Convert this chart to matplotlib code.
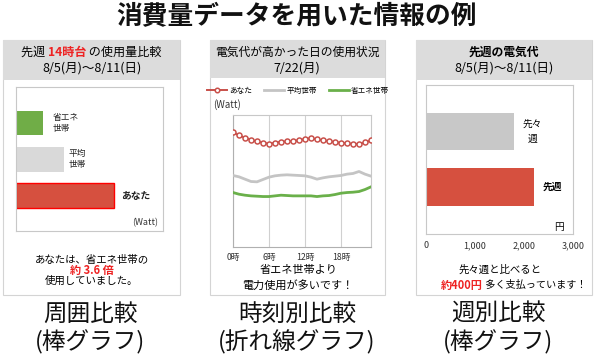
import matplotlib
matplotlib.use("Agg")
import matplotlib.pyplot as plt
from matplotlib.patches import Rectangle

plt.rcParams['font.family'] = ['Noto Sans CJK JP', 'DejaVu Sans']

# ---------------- data ----------------
title = "消費量データを用いた情報の例"

# panel 1: neighbour comparison (Watt)
p1_cats = ["あなた", "平均\n世帯", "省エネ\n世帯"]
p1_vals = [900, 440, 250]
p1_colors = ["#d6503f", "#d9d9d9", "#70ad47"]

# panel 2: hourly usage (Watt, relative)
hours = list(range(24))
you = [343, 334, 327, 321, 316, 312, 309, 312, 315, 316, 317, 320,
       323, 326, 322, 319, 317, 314, 312, 310, 309, 308, 313, 319]
avg = [214, 210, 203, 196, 195, 202, 209, 213, 215, 216, 215, 214,
       213, 209, 203, 207, 210, 212, 214, 218, 220, 226, 218, 212]
eco = [163, 158, 155, 153, 152, 151, 151, 153, 155, 154, 153, 153,
       153, 153, 151, 153, 154, 157, 161, 163, 164, 166, 172, 180]
p2_ticks = [0, 6, 12, 18]
p2_ticklabels = ["0時", "6時", "12時", "18時"]
p2_series_names = ["あなた", "平均世帯", "省エネ世帯"]

# panel 3: weekly cost (yen)
p3_cats = ["先週", "先々\n週"]
p3_vals = [2200, 1800]
p3_colors = ["#d6503f", "#c8c8c8"]
p3_ticks = [0, 1000, 2000, 3000]
p3_ticklabels = ["0", "1,000", "2,000", "3,000"]

bottom_labels = [("周囲比較", "(棒グラフ)"), ("時刻別比較", "(折れ線グラフ)"), ("週別比較", "(棒グラフ)")]

# ---------------- layout helpers ----------------
W, H = 595, 360
fig = plt.figure(figsize=(W / 100, H / 100), dpi=100)


def fx(x):
    return x / W


def fy(y):
    return 1 - y / H


def add_ax(x0, y0, x1, y1):
    return fig.add_axes([fx(x0), fy(y1), (x1 - x0) / W, (y1 - y0) / H])


def panel(x0, x1, hy1):
    fig.patches.append(Rectangle((fx(x0), fy(295)), (x1 - x0) / W, (295 - 40) / H,
                                 transform=fig.transFigure, facecolor="white",
                                 edgecolor="#d4d4d4", lw=0.8, zorder=-2))
    fig.patches.append(Rectangle((fx(x0), fy(hy1)), (x1 - x0) / W, (hy1 - 40) / H,
                                 transform=fig.transFigure, facecolor="#dcdcdc",
                                 edgecolor="none", zorder=-1))


def style_box(ax):
    ax.set_facecolor("white")
    for s in ax.spines.values():
        s.set_color("#c8c8c8")
        s.set_linewidth(0.8)


# title
fig.text(fx(297), fy(17), title, ha="center", va="center", fontsize=18.5,
         fontweight="bold", color="#111111")

# ---------------- panel 1 ----------------
panel(3, 180, 80)
ax1 = add_ax(16, 87, 163, 231)
style_box(ax1)
ypos1 = list(range(len(p1_cats)))
bars = ax1.barh(ypos1, p1_vals, height=0.68, color=p1_colors)
bars[0].set_edgecolor("#ff0000")
bars[0].set_linewidth(1.0)
ax1.set_xlim(0, 1350)
ax1.set_ylim(-0.97, 2.99)
ax1.set_xticks([])
ax1.set_yticks([])
offs = [7, 5, 9]
for i, (c, v) in enumerate(zip(p1_cats, p1_vals)):
    ax1.annotate(c, xy=(v, i), xytext=(offs[i] * 0.72, 0), textcoords="offset points",
                 va="center", ha="left", fontsize=7 if i == 0 else 6.3,
                 fontweight="bold" if i == 0 else "normal", color="#222222",
                 linespacing=1.3)
ax1.text(0.97, 0.06, "(Watt)", transform=ax1.transAxes, ha="right", va="center",
         fontsize=6.5, color="#333333")

t1 = ax1.annotate("先週 ", xy=(fx(21), fy(52)), xycoords="figure fraction",
                  ha="left", va="center", fontsize=8.7, annotation_clip=False)
t2 = ax1.annotate("14時台", xy=(1, 0.5), xycoords=t1, ha="left", va="center",
                  fontsize=8.7, color="#ee2222", fontweight="bold", annotation_clip=False)
ax1.annotate(" の使用量比較", xy=(1, 0.5), xycoords=t2, ha="left", va="center",
             fontsize=8.7, annotation_clip=False)
fig.text(fx(92), fy(68), "8/5(月)～8/11(日)", ha="center", va="center", fontsize=9)

fig.text(fx(92), fy(260), "あなたは、省エネ世帯の", ha="center", va="center", fontsize=7.5)
fig.text(fx(92), fy(270.5), "約 3.6 倍", ha="center", va="center", fontsize=8,
         color="#ee2222", fontweight="bold")
fig.text(fx(92), fy(281), "使用していました。", ha="center", va="center", fontsize=7.5)

# ---------------- panel 2 ----------------
panel(210, 385, 78)
fig.text(fx(297), fy(52), "電気代が高かった日の使用状況", ha="center", va="center",
         fontsize=8.5)
fig.text(fx(297), fy(68), "7/22(月)", ha="center", va="center", fontsize=9)
ax2 = add_ax(233, 115, 371, 247)
style_box(ax2)
ax2.spines["left"].set_color("#b0b0b0")
ax2.spines["bottom"].set_color("#b0b0b0")
l1, = ax2.plot(hours, you, color="#c8504a", lw=1.4, marker="o", ms=3.6,
               mfc="white", mec="#c8504a", mew=1.1, zorder=4)
l2, = ax2.plot(hours, avg, color="#c4c4c4", lw=2.0, zorder=3)
l3, = ax2.plot(hours, eco, color="#6ab04a", lw=2.0, zorder=3)
ax2.set_xlim(0, 23)
ax2.set_ylim(0, 395)
ax2.set_yticks([])
ax2.set_xticks(p2_ticks)
ax2.set_xticklabels(p2_ticklabels, fontsize=6.3, color="#333333")
ax2.tick_params(axis="x", length=0, pad=4)
ax2.grid(axis="x", color="#d0d0d0", lw=0.8)
fig.legend([l1, l2, l3], p2_series_names, loc="center", ncol=3,
           bbox_to_anchor=(fx(298), fy(91)), frameon=False, fontsize=5.5,
           handlelength=2.6, columnspacing=1.6, handletextpad=0.3,
           markerscale=0.9)
fig.text(fx(213), fy(105), "(Watt)", ha="left", va="center", fontsize=7, color="#333333")
fig.text(fx(298), fy(270), "省エネ世帯より", ha="center", va="center", fontsize=8)
fig.text(fx(298), fy(285), "電力使用が多いです！", ha="center", va="center", fontsize=8)

# ---------------- panel 3 ----------------
panel(416, 592, 80)
fig.text(fx(504), fy(52), "先週の電気代", ha="center", va="center", fontsize=8.5,
         fontweight="bold")
fig.text(fx(504), fy(68), "8/5(月)～8/11(日)", ha="center", va="center", fontsize=9)
ax3 = add_ax(426, 85, 573, 234)
style_box(ax3)
ypos3 = list(range(len(p3_cats)))
ax3.barh(ypos3, p3_vals, height=0.68, color=p3_colors)
ax3.set_xlim(0, 3000)
ax3.set_ylim(-0.85, 1.84)
ax3.set_yticks([])
ax3.set_xticks(p3_ticks)
ax3.set_xticklabels(p3_ticklabels, fontsize=6.5, color="#333333")
ax3.tick_params(axis="x", length=0, pad=5)
for i, (c, v) in enumerate(zip(p3_cats, p3_vals)):
    ax3.annotate(c, xy=(v, i), xytext=(6, 0), textcoords="offset points",
                 va="center", ha="left", fontsize=7, multialignment="center",
                 fontweight="bold" if i == 0 else "normal", linespacing=1.6)
ax3.text(0.94, 0.05, "円", transform=ax3.transAxes, ha="right", va="center", fontsize=7)
fig.text(fx(500), fy(270), "先々週と比べると", ha="center", va="center", fontsize=7.5)
u1 = ax3.annotate("約400円", xy=(fx(441), fy(285)), xycoords="figure fraction",
                  ha="left", va="center", fontsize=8, color="#ee2222",
                  fontweight="bold", annotation_clip=False)
ax3.annotate(" 多く支払っています！", xy=(1, 0.5), xycoords=u1, ha="left",
             va="center", fontsize=7.3, annotation_clip=False)

# ---------------- bottom labels ----------------
for cx, (a, b) in zip([90, 297, 498], bottom_labels):
    fig.text(fx(cx), fy(314), a, ha="center", va="center", fontsize=17, color="#111111")
    fig.text(fx(cx), fy(342), b, ha="center", va="center", fontsize=17, color="#111111")

fig.savefig("out.png", dpi=100)
